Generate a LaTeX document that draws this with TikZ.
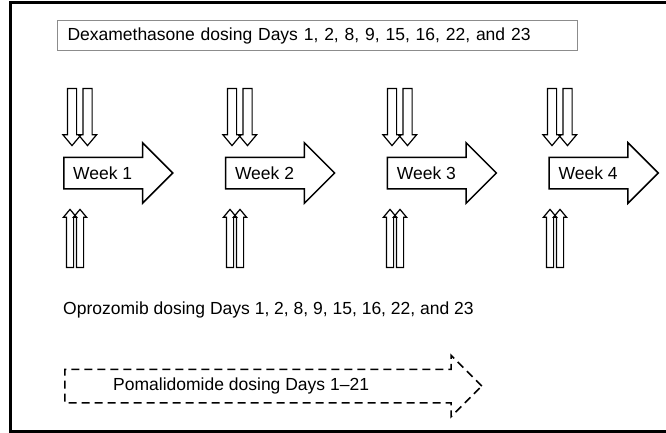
\documentclass[tikz,border=0pt]{standalone}
\usepackage{fontspec}
\setmainfont{Liberation Sans}
\usetikzlibrary{shapes.arrows, positioning}

\begin{document}
\begin{tikzpicture}[
    x=1pt, y=-1pt,
    font=\fontsize{17.5}{20}\selectfont,
    frame/.style={line width=3pt, draw=black},
    labelbox/.style={rectangle, draw=black!45, line width=1pt, minimum width=520pt, minimum height=30pt, text width=500pt, inner xsep=10pt, align=left, anchor=north west},
    week/.style={single arrow, draw=black, line width=1.5pt, inner xsep=0pt, inner ysep=15pt, minimum height=109pt, minimum width=0pt, single arrow head extend=14.5pt, single arrow tip angle=90},
    weektext/.style={inner sep=0pt},
    dexa/.style={single arrow, draw=black, line width=1.2pt, rotate=270, anchor=tail, inner sep=4pt, minimum height=57pt, minimum width=0pt, single arrow head extend=4.5pt, single arrow tip angle=80},
    opro/.style={single arrow, draw=black, line width=1.2pt, rotate=90, anchor=tail, inner sep=3pt, minimum height=58pt, minimum width=0pt, single arrow head extend=3pt, single arrow tip angle=80},
    pomarrow/.style={single arrow, draw=black, dash pattern=on 8pt off 5pt, line width=1.5pt, anchor=tail, inner sep=16pt, minimum height=417pt, minimum width=0pt, single arrow head extend=14pt, single arrow tip angle=90},
    plaintext/.style={inner sep=0pt, anchor=west},
]
    \useasboundingbox (0,0) rectangle (666,433);

    % outer frame, open to the right
    \draw [frame] (666,3) -- (10,3) -- (10,431) -- (666,431);

    % dexamethasone label
    \node (dexa_box) [labelbox] at (57,20) {Dexamethasone dosing Days 1, 2, 8, 9, 15, 16, 22, and 23};

    % weeks
    \node (week_1) [week, anchor=tail] at (63,173) {};
    \node (week_2) [week, right=51pt of week_1] {};
    \node (week_3) [week, right=51pt of week_2] {};
    \node (week_4) [week, right=51pt of week_3] {};
    \node (week_1_text) [weektext, right=10pt of week_1.tail] {Week 1};
    \node (week_2_text) [weektext, right=10pt of week_2.tail] {Week 2};
    \node (week_3_text) [weektext, right=10pt of week_3.tail] {Week 3};
    \node (week_4_text) [weektext, right=10pt of week_4.tail] {Week 4};

    % dexamethasone doses
    \node (dexa_1a) [dexa] at (72,88) {};
    \node (dexa_1b) [dexa] at (87.5,88) {};
    \node (dexa_2a) [dexa] at (232,88) {};
    \node (dexa_2b) [dexa] at (247.5,88) {};
    \node (dexa_3a) [dexa] at (392,88) {};
    \node (dexa_3b) [dexa] at (407.5,88) {};
    \node (dexa_4a) [dexa] at (552,88) {};
    \node (dexa_4b) [dexa] at (567.5,88) {};

    % oprozomib doses
    \node (opro_1a) [opro] at (70,268) {};
    \node (opro_1b) [opro] at (80,268) {};
    \node (opro_2a) [opro] at (230,268) {};
    \node (opro_2b) [opro] at (240,268) {};
    \node (opro_3a) [opro] at (390,268) {};
    \node (opro_3b) [opro] at (400,268) {};
    \node (opro_4a) [opro] at (550,268) {};
    \node (opro_4b) [opro] at (560,268) {};

    % oprozomib label
    \node (opro_text) [plaintext] at (63,310) {Oprozomib dosing Days 1, 2, 8, 9, 15, 16, 22, and 23};

    % pomalidomide
    \node (pom_arrow) [pomarrow] at (64,386) {};
    \node (pom_text) [plaintext] at (113,386) {Pomalidomide dosing Days 1--21};

\end{tikzpicture}
\end{document}
